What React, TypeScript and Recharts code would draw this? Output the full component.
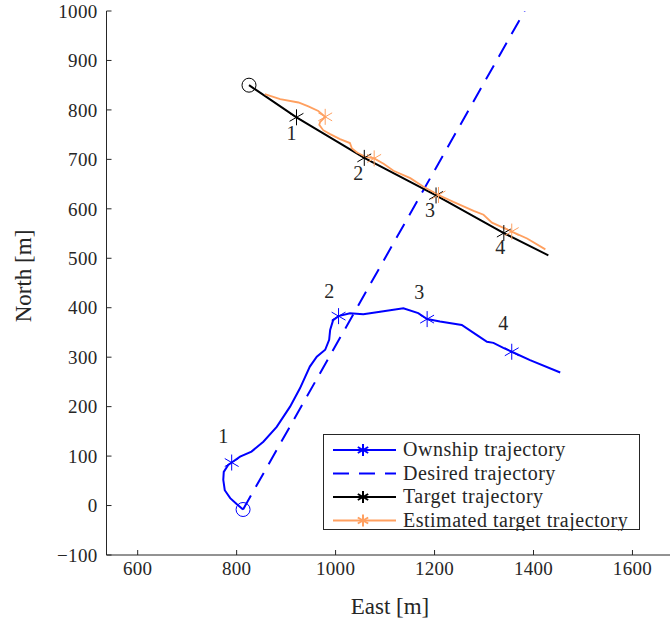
import { Legend, Scatter, ScatterChart, XAxis, YAxis } from "recharts";

const X_TICKS = [600, 800, 1000, 1200, 1400, 1600];
const Y_TICKS = [-100, 0, 100, 200, 300, 400, 500, 600, 700, 800, 900, 1000];

const OWN_TRACK = [
  { x: 813, y: -8 }, { x: 800, y: 3 }, { x: 787, y: 15 }, { x: 776, y: 31 },
  { x: 773, y: 52 }, { x: 774, y: 68 }, { x: 783, y: 82 }, { x: 790, y: 87 },
  { x: 807, y: 99 }, { x: 830, y: 109 }, { x: 854, y: 129 }, { x: 881, y: 159 },
  { x: 908, y: 200 }, { x: 928, y: 237 }, { x: 948, y: 281 }, { x: 962, y: 301 },
  { x: 979, y: 315 }, { x: 987, y: 335 }, { x: 989, y: 355 }, { x: 995, y: 375 },
  { x: 1006, y: 383 }, { x: 1029, y: 389 }, { x: 1056, y: 387 }, { x: 1090, y: 392 },
  { x: 1137, y: 399 }, { x: 1167, y: 389 }, { x: 1185, y: 377 }, { x: 1211, y: 372 },
  { x: 1255, y: 365 }, { x: 1285, y: 345 }, { x: 1306, y: 331 }, { x: 1319, y: 329 },
  { x: 1339, y: 319 }, { x: 1356, y: 311 }, { x: 1393, y: 294 }, { x: 1454, y: 269 },
];
const OWN_MARKS = [
  { x: 790, y: 87 }, { x: 1006, y: 383 }, { x: 1185, y: 377 }, { x: 1356, y: 311 },
];
const OWN_START = [{ x: 813, y: -8 }];
const OWN_LABELS = [
  { x: 773, y: 140, n: "1" }, { x: 987, y: 434, n: "2" },
  { x: 1169, y: 431, n: "3" }, { x: 1339, y: 369, n: "4" },
];

const DESIRED = [{ x: 813, y: -8 }, { x: 1382, y: 1000 }];

const TARGET_TRACK = [
  { x: 825, y: 850 }, { x: 921, y: 785 }, { x: 1058, y: 703 },
  { x: 1203, y: 627 }, { x: 1340, y: 551 }, { x: 1430, y: 506 },
];
const TARGET_MARKS = [
  { x: 921, y: 785 }, { x: 1058, y: 703 }, { x: 1203, y: 627 }, { x: 1340, y: 551 },
];
const TARGET_START = [{ x: 825, y: 850 }];
const TARGET_LABELS = [
  { x: 911, y: 754, n: "1" }, { x: 1046, y: 672, n: "2" },
  { x: 1191, y: 598, n: "3" }, { x: 1333, y: 522, n: "4" },
];

const EST_TRACK = [
  { x: 857, y: 832 }, { x: 888, y: 822 }, { x: 925, y: 815 }, { x: 945, y: 807 },
  { x: 965, y: 798 }, { x: 979, y: 786 }, { x: 969, y: 776 }, { x: 967, y: 770 },
  { x: 975, y: 759 }, { x: 989, y: 751 }, { x: 1009, y: 741 }, { x: 1029, y: 733 },
  { x: 1033, y: 722 }, { x: 1046, y: 712 }, { x: 1060, y: 705 }, { x: 1078, y: 702 },
  { x: 1097, y: 691 }, { x: 1117, y: 677 }, { x: 1151, y: 662 }, { x: 1177, y: 645 },
  { x: 1208, y: 628 }, { x: 1238, y: 614 }, { x: 1279, y: 596 }, { x: 1299, y: 588 },
  { x: 1316, y: 572 }, { x: 1356, y: 554 }, { x: 1387, y: 540 }, { x: 1424, y: 518 },
];
const EST_MARKS = [
  { x: 979, y: 786 }, { x: 1078, y: 702 }, { x: 1208, y: 628 }, { x: 1356, y: 554 },
];

const BLUE = "#0000ff";
const BLACK = "#000000";
const ORANGE = "#ffa060";
const AXIS = "#262626";
const FONT = "'Liberation Serif', 'Times New Roman', serif";

const LEGEND_ITEMS = [
  { label: "Ownship trajectory", color: BLUE, dash: undefined, marker: true },
  { label: "Desired trajectory", color: BLUE, dash: "16 10", marker: false },
  { label: "Target trajectory", color: BLACK, dash: undefined, marker: true },
  { label: "Estimated target trajectory", color: ORANGE, dash: undefined, marker: true },
];

function Asterisk({ cx, cy, color, r = 8, w = 1 }: any) {
  const dx = r * Math.cos(Math.PI / 6);
  const dy = r * Math.sin(Math.PI / 6);
  return (
    <g stroke={color} strokeWidth={w}>
      <line x1={cx} y1={cy - r} x2={cx} y2={cy + r} />
      <line x1={cx - dx} y1={cy - dy} x2={cx + dx} y2={cy + dy} />
      <line x1={cx - dx} y1={cy + dy} x2={cx + dx} y2={cy - dy} />
    </g>
  );
}

const noDot = () => <g />;

function NumLabel({ cx, cy, payload }: any) {
  return (
    <text x={cx} y={cy} textAnchor="middle" dominantBaseline="central"
      fontFamily={FONT} fontSize={20} fill={AXIS}>
      {payload.n}
    </text>
  );
}

function LegendBox() {
  return (
    <svg width={318} height={97} style={{ display: "block" }}>
      <rect x={0.5} y={0.5} width={316} height={95} fill="#fff" stroke={AXIS} strokeWidth={1} />
      {LEGEND_ITEMS.map((it, i) => {
        const y = 16 + i * 23.5;
        return (
          <g key={it.label}>
            <line x1={10} x2={73} y1={y} y2={y} stroke={it.color} strokeWidth={2}
              strokeDasharray={it.dash} />
            {it.marker && <Asterisk cx={40} cy={y} color={it.color} r={6} w={2} />}
            <text x={80} y={y - 1} dominantBaseline="central" fontFamily={FONT}
              fontSize={20} letterSpacing={0.5} fill={AXIS}>
              {it.label}
            </text>
          </g>
        );
      })}
    </svg>
  );
}

const fmt = (v: number) => String(v).replace("-", "\u2212");
const tickStyle = { fontFamily: FONT, fontSize: 19, fill: AXIS, letterSpacing: 0.3 };

export default function App() {
  return (
    <div style={{ position: "absolute", left: 0, top: 0, width: 670, height: 624,
      overflow: "hidden", background: "#fff" }}>
      <ScatterChart width={700} height={624}
        margin={{ top: 11, right: 23.5, bottom: 9, left: 0.5 }}>
        <XAxis type="number" dataKey="x" domain={[537, 1689]} ticks={X_TICKS}
          allowDataOverflow height={60} tickSize={-5} tickMargin={12}
          stroke={AXIS} tick={tickStyle} tickFormatter={fmt}
          label={{
            content: () => (
              <text x={390} y={606} textAnchor="middle" dominantBaseline="central"
                fontFamily={FONT} fontSize={23} fill={AXIS}>East [m]</text>
            ),
          }} />
        <XAxis xAxisId="top" orientation="top" type="number" domain={[537, 1689]}
          ticks={X_TICKS} allowDataOverflow height={0} tickSize={-5} tick={false}
          stroke={AXIS} />
        <YAxis type="number" dataKey="y" domain={[-100, 1000]} ticks={Y_TICKS}
          allowDataOverflow width={106} tickSize={-5} tickMargin={14}
          stroke={AXIS} tick={tickStyle} tickFormatter={fmt}
          label={{
            content: () => (
              <text x={23} y={276} textAnchor="middle" dominantBaseline="central"
                transform="rotate(-90, 23, 276)" fontFamily={FONT} fontSize={23}
                fill={AXIS}>North [m]</text>
            ),
          }} />
        <Legend layout="horizontal" verticalAlign="middle" align="center"
          wrapperStyle={{ left: 323, top: 434, width: 318 }} content={() => <LegendBox />} />

        <Scatter data={DESIRED} isAnimationActive={false} shape={noDot}
          line={{ stroke: BLUE, strokeWidth: 2, strokeDasharray: "16 10" }} lineType="joint" />
        <Scatter data={OWN_TRACK} isAnimationActive={false} shape={noDot}
          line={{ stroke: BLUE, strokeWidth: 2 }} lineType="joint" />
        <Scatter data={TARGET_TRACK} isAnimationActive={false} shape={noDot}
          line={{ stroke: BLACK, strokeWidth: 2 }} lineType="joint" />
        <Scatter data={EST_TRACK} isAnimationActive={false} shape={noDot}
          line={{ stroke: ORANGE, strokeWidth: 1.8 }} lineType="joint" />

        <Scatter data={OWN_MARKS} isAnimationActive={false}
          shape={(p: any) => <Asterisk cx={p.cx} cy={p.cy} color={BLUE} />} />
        <Scatter data={TARGET_MARKS} isAnimationActive={false}
          shape={(p: any) => <Asterisk cx={p.cx} cy={p.cy} color={BLACK} />} />
        <Scatter data={EST_MARKS} isAnimationActive={false}
          shape={(p: any) => <Asterisk cx={p.cx} cy={p.cy} color={ORANGE} />} />
        <Scatter data={OWN_START} isAnimationActive={false}
          shape={(p: any) => <circle cx={p.cx} cy={p.cy} r={7} fill="none" stroke={BLUE} strokeWidth={1} />} />
        <Scatter data={TARGET_START} isAnimationActive={false}
          shape={(p: any) => <circle cx={p.cx} cy={p.cy} r={7} fill="none" stroke={BLACK} strokeWidth={1} />} />
        <Scatter data={OWN_LABELS} isAnimationActive={false} shape={NumLabel} />
        <Scatter data={TARGET_LABELS} isAnimationActive={false} shape={NumLabel} />
      </ScatterChart>
    </div>
  );
}
